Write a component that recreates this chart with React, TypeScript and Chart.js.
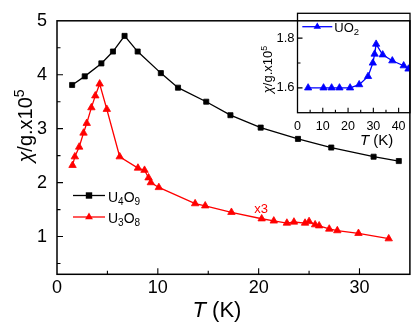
import React, { useEffect, useRef } from "react";
import { Chart, registerables } from "chart.js";
Chart.register(...registerables);

const FONT = '"Liberation Sans", Arial, Helvetica, sans-serif';

// U4O9 (black squares)
const u4o9T = [1.5, 2.75, 4.4, 5.55, 6.7, 8.0, 10.3, 12.0, 14.8, 17.2, 20.2, 23.9, 27.2, 31.4, 33.9];
const u4o9V = [3.81, 3.97, 4.21, 4.43, 4.72, 4.43, 4.03, 3.76, 3.5, 3.25, 3.02, 2.81, 2.65, 2.48, 2.4];

// U3O8 (red triangles, x3)
const u3o8T = [1.54, 1.77, 2.2, 2.63, 2.95, 3.41, 3.8, 4.23, 4.94, 6.22, 8.03, 8.68, 9.08, 9.31, 10.1, 13.7, 14.7, 17.3, 20.3, 21.5, 22.8, 23.5, 24.6, 25.0, 25.6, 26.0, 27.0, 27.8, 29.9, 32.9];
const u3o8V = [2.32, 2.48, 2.66, 2.92, 3.1, 3.39, 3.61, 3.83, 3.36, 2.48, 2.27, 2.23, 2.09, 2.0, 1.91, 1.61, 1.57, 1.45, 1.33, 1.29, 1.25, 1.27, 1.25, 1.28, 1.22, 1.2, 1.14, 1.11, 1.06, 0.96];

// UO2 inset (blue triangles)
const uo2T = [4.2, 10.3, 13.5, 16.6, 20.8, 24.4, 27.9, 29.8, 30.5, 31.1, 33.7, 37.5, 42.0, 43.9];
const uo2V = [1.6, 1.6, 1.6, 1.6, 1.6, 1.613, 1.646, 1.7, 1.736, 1.776, 1.733, 1.709, 1.689, 1.676];

// Tick values
const mainXTicks = [0, 5, 10, 15, 20, 25, 30, 35];
const mainXLabels = [0, 10, 20, 30];
const mainYTicks = [0.5, 1, 1.5, 2, 2.5, 3, 3.5, 4, 4.5, 5];
const mainYLabels = [1, 2, 3, 4, 5];
const insetXTicks = [0, 5, 10, 15, 20, 25, 30, 35, 40];
const insetXLabels = [0, 10, 20, 30, 40];
const insetYTicks = [1.5, 1.6, 1.7, 1.8, 1.9];
const insetYLabels = [1.6, 1.8];

type Part = { t: string; size: number; italic?: boolean; dy?: number; color?: string };

function partFont(p: Part) {
  return `${p.italic ? "italic " : ""}${p.size}px ${FONT}`;
}

function drawParts(ctx: CanvasRenderingContext2D, parts: Part[], x: number, y: number, align: "left" | "center", color = "#000") {
  ctx.textBaseline = "alphabetic";
  ctx.textAlign = "left";
  let total = 0;
  const widths = parts.map((p) => {
    ctx.font = partFont(p);
    const w = ctx.measureText(p.t).width;
    total += w;
    return w;
  });
  let cx = align === "center" ? x - total / 2 : x;
  parts.forEach((p, i) => {
    ctx.font = partFont(p);
    ctx.fillStyle = p.color || color;
    ctx.fillText(p.t, cx, y + (p.dy || 0));
    cx += widths[i];
  });
}

function has(arr: number[], v: number) {
  return arr.some((a) => Math.abs(a - v) < 1e-6);
}

function frameTicksPlugin(lw: number, xMajorArr: number[], yMajorArr: number[], majorLen: number, minorLen: number) {
  return {
    id: "frameTicks",
    afterDatasetsDraw(chart: any) {
      const { ctx, chartArea: a, scales } = chart;
      ctx.save();
      ctx.strokeStyle = "#000";
      ctx.lineWidth = lw;
      ctx.strokeRect(a.left, a.top, a.right - a.left, a.bottom - a.top);
      ctx.lineWidth = 1.1;
      ctx.beginPath();
      scales.x.ticks.forEach((t: any) => {
        const px = scales.x.getPixelForValue(t.value);
        if (px <= a.left + 1 || px >= a.right - 1) return;
        const len = has(xMajorArr, t.value) ? majorLen : minorLen;
        ctx.moveTo(px, a.bottom);
        ctx.lineTo(px, a.bottom - len);
      });
      scales.y.ticks.forEach((t: any) => {
        const py = scales.y.getPixelForValue(t.value);
        if (py <= a.top + 1 || py >= a.bottom - 1) return;
        const len = has(yMajorArr, t.value) ? majorLen : minorLen;
        ctx.moveTo(a.left, py);
        ctx.lineTo(a.left + len, py);
      });
      ctx.stroke();
      ctx.restore();
    },
  };
}

function legendLine(ctx: CanvasRenderingContext2D, x1: number, x2: number, y: number, color: string, style: "rect" | "triangle", r: number) {
  ctx.save();
  ctx.strokeStyle = color;
  ctx.fillStyle = color;
  ctx.lineWidth = 1.3;
  ctx.beginPath();
  ctx.moveTo(x1, y);
  ctx.lineTo(x2, y);
  ctx.stroke();
  const cx = (x1 + x2) / 2;
  ctx.beginPath();
  if (style === "rect") {
    ctx.rect(cx - r, y - r, 2 * r, 2 * r);
  } else {
    ctx.moveTo(cx, y - r);
    ctx.lineTo(cx + r * 0.866, y + r * 0.5);
    ctx.lineTo(cx - r * 0.866, y + r * 0.5);
    ctx.closePath();
  }
  ctx.fill();
  ctx.restore();
}

const mainAnnot = {
  id: "mainAnnot",
  afterDraw(chart: any) {
    const ctx: CanvasRenderingContext2D = chart.ctx;
    ctx.save();
    // legend
    legendLine(ctx, 73, 105, 195.5, "#000", "rect", 3.2);
    drawParts(ctx, [
      { t: "U", size: 14 },
      { t: "4", size: 10, dy: 3 },
      { t: "O", size: 14 },
      { t: "9", size: 10, dy: 3 },
    ], 108, 201.5, "left");
    legendLine(ctx, 73, 105, 217, "#ff0000", "triangle", 4.5);
    drawParts(ctx, [
      { t: "U", size: 14 },
      { t: "3", size: 10, dy: 3 },
      { t: "O", size: 14 },
      { t: "8", size: 10, dy: 3 },
    ], 108, 223, "left");
    // x3 label
    drawParts(ctx, [{ t: "x3", size: 13 }], 261, 212.5, "center", "#ff0000");
    // x title
    drawParts(ctx, [
      { t: "T", size: 22, italic: true },
      { t: " (K)", size: 22 },
    ], 217, 317, "center");
    // y title (rotated)
    ctx.translate(31.5, 126);
    ctx.rotate(-Math.PI / 2);
    drawParts(ctx, [
      { t: "χ", size: 20, italic: true },
      { t: "/g.x10", size: 20 },
      { t: "5", size: 14, dy: -8 },
    ], 0, 0, "center");
    ctx.restore();
  },
};

const insetAnnot = {
  id: "insetAnnot",
  afterDraw(chart: any) {
    const ctx: CanvasRenderingContext2D = chart.ctx;
    ctx.save();
    // legend (canvas offset x = 250)
    legendLine(ctx, 52.3, 82.3, 26.7, "#0000ff", "triangle", 4.3);
    drawParts(ctx, [
      { t: "UO", size: 13 },
      { t: "2", size: 9.5, dy: 3 },
    ], 84.3, 32.3, "left");
    // x title
    drawParts(ctx, [
      { t: "T", size: 15, italic: true },
      { t: " (K)", size: 15 },
    ], 126.7, 144.5, "center");
    // y title
    ctx.translate(21.7, 69.5);
    ctx.rotate(-Math.PI / 2);
    drawParts(ctx, [
      { t: "χ", size: 13, italic: true },
      { t: "/g.x10", size: 13 },
      { t: "5", size: 9, dy: -5 },
    ], 0, 0, "center");
    ctx.restore();
  },
};

function pts(xs: number[], ys: number[]) {
  return xs.map((x, i) => ({ x, y: ys[i] }));
}

export default function App() {
  const mainRef = useRef<HTMLCanvasElement>(null);
  const insetRef = useRef<HTMLCanvasElement>(null);

  useEffect(() => {
    const mainChart = new Chart(mainRef.current as HTMLCanvasElement, {
      type: "line",
      data: {
        datasets: [
          {
            label: "U4O9",
            data: pts(u4o9T, u4o9V),
            borderColor: "#000",
            backgroundColor: "#000",
            borderWidth: 1.3,
            pointStyle: "rect",
            pointRadius: 3.6,
            pointBorderWidth: 0.8,
            tension: 0,
          },
          {
            label: "U3O8",
            data: pts(u3o8T, u3o8V),
            borderColor: "#ff0000",
            backgroundColor: "#ff0000",
            borderWidth: 1.3,
            pointStyle: "triangle",
            pointRadius: 4.3,
            pointBorderWidth: 0.8,
            tension: 0,
          },
        ],
      },
      options: {
        animation: false,
        responsive: false,
        layout: { padding: { left: 0, right: 2.3, top: 12.7, bottom: 0 } },
        plugins: { legend: { display: false }, tooltip: { enabled: false } },
        scales: {
          x: {
            type: "linear",
            min: 0,
            max: 35,
            grid: { display: false, drawTicks: false },
            border: { display: false },
            afterBuildTicks: (s: any) => {
              s.ticks = mainXTicks.map((v) => ({ value: v }));
            },
            afterFit: (s: any) => {
              s.height = 51.7;
            },
            ticks: {
              autoSkip: false,
              maxRotation: 0,
              padding: 3,
              color: "#000",
              font: { family: FONT, size: 18 },
              callback: (v: any) => (has(mainXLabels, Number(v)) ? String(v) : ""),
            },
          },
          y: {
            type: "linear",
            min: 0.3,
            max: 5,
            grid: { display: false, drawTicks: false },
            border: { display: false },
            afterBuildTicks: (s: any) => {
              s.ticks = mainYTicks.map((v) => ({ value: v }));
            },
            afterFit: (s: any) => {
              s.width = 57;
            },
            ticks: {
              autoSkip: false,
              padding: 10,
              color: "#000",
              font: { family: FONT, size: 18 },
              callback: (v: any) => (has(mainYLabels, Number(v)) ? String(v) : ""),
            },
          },
        },
      },
      plugins: [frameTicksPlugin(1.5, mainXLabels, mainYLabels, 6, 3.5), mainAnnot],
    } as any);

    const insetChart = new Chart(insetRef.current as HTMLCanvasElement, {
      type: "line",
      data: {
        datasets: [
          {
            label: "UO2",
            data: pts(uo2T, uo2V),
            borderColor: "#0000ff",
            backgroundColor: "#0000ff",
            borderWidth: 1.3,
            pointStyle: "triangle",
            pointRadius: 4.2,
            pointBorderWidth: 0.8,
            tension: 0,
          },
        ],
      },
      options: {
        animation: false,
        responsive: false,
        layout: { padding: { left: 0, right: 2.3, top: 13.3, bottom: 0 } },
        plugins: { legend: { display: false }, tooltip: { enabled: false } },
        scales: {
          x: {
            type: "linear",
            min: 0,
            max: 44.5,
            grid: { display: false, drawTicks: false },
            border: { display: false },
            afterBuildTicks: (s: any) => {
              s.ticks = insetXTicks.map((v) => ({ value: v }));
            },
            afterFit: (s: any) => {
              s.height = 47.3;
            },
            ticks: {
              autoSkip: false,
              maxRotation: 0,
              padding: 6,
              color: "#000",
              font: { family: FONT, size: 12.5 },
              callback: (v: any) => (has(insetXLabels, Number(v)) ? String(v) : ""),
            },
          },
          y: {
            type: "linear",
            min: 1.5,
            max: 1.9,
            grid: { display: false, drawTicks: false },
            border: { display: false },
            afterBuildTicks: (s: any) => {
              s.ticks = insetYTicks.map((v) => ({ value: v }));
            },
            afterFit: (s: any) => {
              s.width = 47.5;
            },
            ticks: {
              autoSkip: false,
              padding: 3,
              color: "#000",
              font: { family: FONT, size: 13 },
              callback: (v: any) => (has(insetYLabels, Number(v)) ? Number(v).toFixed(1) : ""),
            },
          },
        },
      },
      plugins: [frameTicksPlugin(1.3, insetXLabels, insetYLabels, 5, 3), insetAnnot],
    } as any);

    return () => {
      mainChart.destroy();
      insetChart.destroy();
    };
  }, []);

  return (
    <div style={{ position: "absolute", left: 0, top: 0, width: 415, height: 326, background: "#fff" }}>
      <canvas ref={mainRef} width={415} height={326} style={{ position: "absolute", left: 0, top: 0 }} />
      <canvas ref={insetRef} width={165} height={160} style={{ position: "absolute", left: 250, top: 0 }} />
    </div>
  );
}
